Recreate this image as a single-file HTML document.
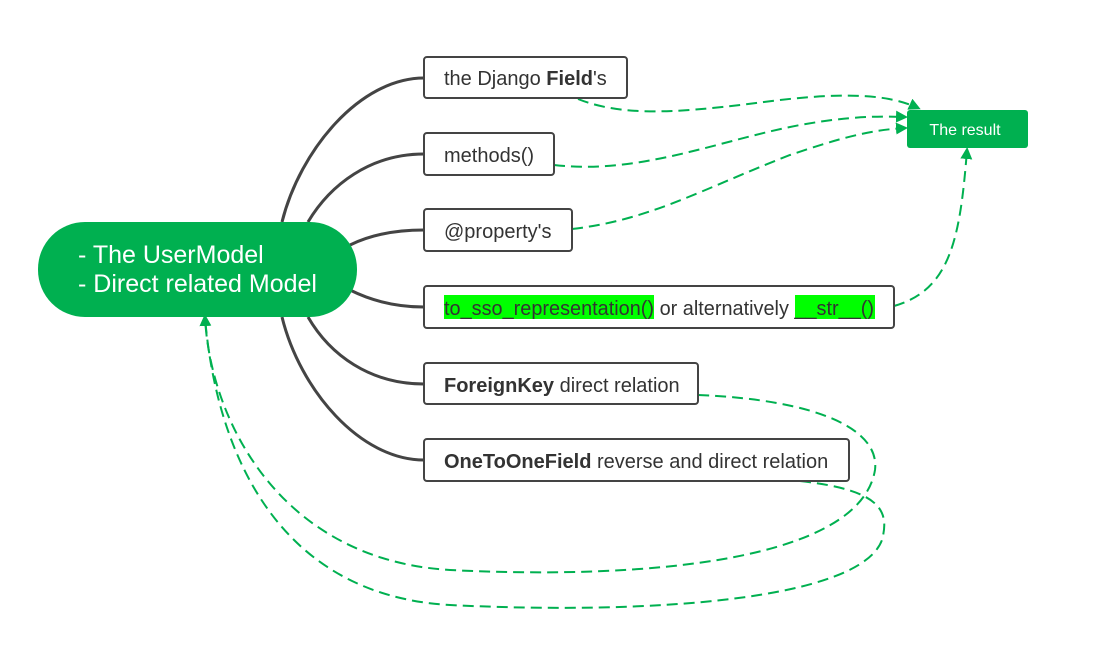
<!DOCTYPE html>
<html><head><style>body{margin:0;background:#fff}svg{display:block}text{font-family:"Liberation Sans",sans-serif}</style></head><body>
<svg width="1095" height="654" viewBox="0 0 1095 654" xmlns="http://www.w3.org/2000/svg">
<defs><marker id="a" markerWidth="12" markerHeight="12" refX="9" refY="6" orient="auto" markerUnits="userSpaceOnUse"><path d="M0,0 L12,6 L0,12 Z" fill="#00b050"/></marker></defs>
<g fill="none" stroke="#444" stroke-width="3">
<path d="M282,222 C300,150 360,78 424,78"/>
<path d="M308,222 C330,185 370,154 424,154"/>
<path d="M350,245 C370,235 395,230 424,230"/>
<path d="M350,290 C370,300 395,307 424,307"/>
<path d="M308,317 C330,355 370,384 424,384"/>
<path d="M282,317 C300,390 360,460 424,460"/>
</g>
<g fill="none" stroke="#00b050" stroke-width="2" stroke-dasharray="11,6">
<path d="M578,99 C630,120 700,110 780,100 C850,92 890,95 918,108" marker-end="url(#a)"/>
<path d="M554,165 C640,175 720,140 800,125 C850,116 880,116 905,117" marker-end="url(#a)"/>
<path d="M572,229 C650,220 700,190 790,155 C840,138 870,130 905,128" marker-end="url(#a)"/>
<path d="M894,306 C950,290 960,240 967,150" marker-end="url(#a)"/>
<path d="M698,395 C820,400 880,430 875,470 C860,560 650,580 450,570 C280,560 210,420 205,317" marker-end="url(#a)"/>
<path d="M800,481 C880,490 890,510 882,540 C860,600 650,615 450,605 C270,595 215,440 205,317"/>
</g>
<rect x="38" y="222" width="319" height="95" rx="47" fill="#00b050"/>
<text x="78" y="263" font-size="25" fill="#fff">- The UserModel</text>
<text x="78" y="292" font-size="25" fill="#fff">- Direct related Model</text>
<rect x="907" y="110" width="121" height="38" rx="3" fill="#00b050"/>
<text x="965" y="135" font-size="16" fill="#fff" text-anchor="middle">The result</text>
<g fill="#fff" stroke="#444" stroke-width="2">
<rect x="424" y="57" width="203" height="41" rx="3"/>
<rect x="424" y="133" width="130" height="42" rx="3"/>
<rect x="424" y="209" width="148" height="42" rx="3"/>
<rect x="424" y="286" width="470" height="42" rx="3"/>
<rect x="424" y="363" width="274" height="41" rx="3"/>
<rect x="424" y="439" width="425" height="42" rx="3"/>
</g>
<rect x="444" y="295" width="210" height="24" fill="#00ff00"/>
<rect x="795" y="295" width="80" height="24" fill="#00ff00"/>
<g font-size="20" fill="#333">
<text x="444" y="85">the Django <tspan font-weight="bold">Field</tspan>'s</text>
<text x="444" y="162">methods()</text>
<text x="444" y="238">@property's</text>
<text x="444" y="315" textLength="430" lengthAdjust="spacingAndGlyphs">to_sso_representation() or alternatively __str__()</text>
<text x="444" y="392"><tspan font-weight="bold">ForeignKey</tspan> direct relation</text>
<text x="444" y="468"><tspan font-weight="bold">OneToOneField</tspan> reverse and direct relation</text>
</g>
</svg>
</body></html>
